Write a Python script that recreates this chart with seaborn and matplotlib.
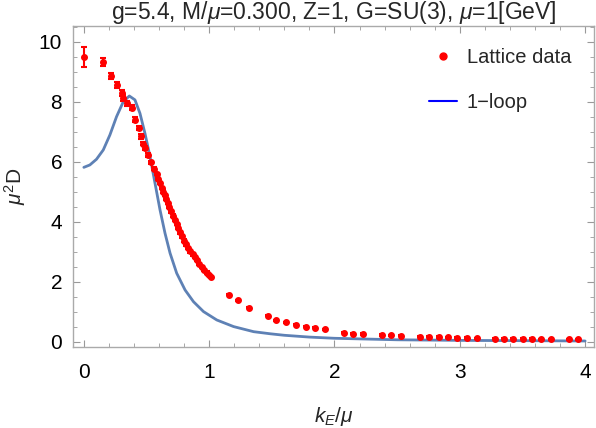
import numpy as np
import pandas as pd
import seaborn as sns
import matplotlib.pyplot as plt
from matplotlib.lines import Line2D
from matplotlib.ticker import MultipleLocator

# Lattice data (k_E/mu, mu^2 D, error)
k_lat = [0.0, 0.154, 0.216, 0.266, 0.303, 0.314, 0.347, 0.381, 0.410, 0.438,
         0.455, 0.469, 0.485, 0.512, 0.538, 0.560, 0.580, 0.594, 0.607, 0.620,
         0.633, 0.645, 0.655, 0.668, 0.681, 0.695, 0.708, 0.724, 0.740, 0.753,
         0.766, 0.782, 0.798, 0.815, 0.833, 0.850, 0.868, 0.884, 0.900, 0.920,
         0.940, 0.960, 0.980, 1.000, 1.015,
         1.160, 1.232, 1.317, 1.466, 1.537, 1.617, 1.697, 1.772, 1.844, 1.924,
         2.078, 2.149, 2.225, 2.383, 2.454, 2.531,
         2.685, 2.757, 2.835, 2.907, 2.981, 3.058, 3.136,
         3.284, 3.355, 3.428, 3.503, 3.579, 3.651, 3.726, 3.872, 3.947]
d_lat = [9.48, 9.31, 8.87, 8.56, 8.30, 8.12, 7.95, 7.80, 7.40, 7.11,
         6.84, 6.60, 6.45, 6.22, 5.98, 5.76, 5.58, 5.43, 5.28, 5.13,
         5.00, 4.88, 4.76, 4.62, 4.48, 4.34, 4.20, 4.06, 3.92, 3.78,
         3.64, 3.51, 3.37, 3.24, 3.12, 3.01, 2.91, 2.82, 2.72, 2.59,
         2.48, 2.39, 2.30, 2.22, 2.15,
         1.56, 1.37, 1.13, 0.86, 0.71, 0.64, 0.56, 0.50, 0.46, 0.41,
         0.29, 0.26, 0.25, 0.22, 0.21, 0.20,
         0.16, 0.16, 0.15, 0.14, 0.13, 0.12, 0.11,
         0.10, 0.10, 0.09, 0.09, 0.09, 0.08, 0.08, 0.08, 0.07]
e_lat = [0.33, 0.13, 0.10, 0.10, 0.10, 0.10, 0.08, 0.08, 0.08, 0.07,
         0.07, 0.06, 0.06, 0.06, 0.05, 0.05] + [0.04] * 29 + [0.02] * 32

# 1-loop curve
k_loop = [0.0, 0.048, 0.101, 0.155, 0.208, 0.261, 0.315, 0.363, 0.408, 0.448,
          0.488, 0.528, 0.568, 0.608, 0.648, 0.688, 0.741, 0.808, 0.875, 0.955,
          1.061, 1.195, 1.355, 1.488, 1.6, 1.8, 2.0, 2.5, 3.0, 3.5, 4.0]
d_loop = [5.81, 5.89, 6.08, 6.39, 6.89, 7.50, 8.00, 8.19, 8.06, 7.61,
          6.94, 6.17, 5.28, 4.39, 3.61, 2.95, 2.28, 1.72, 1.33, 1.00,
          0.72, 0.50, 0.33, 0.26, 0.21, 0.15, 0.11, 0.06, 0.04, 0.03, 0.02]

sns.set_theme(style="ticks")
plt.rcParams['font.family'] = ['Liberation Sans', 'DejaVu Sans']
plt.rcParams['mathtext.fontset'] = 'custom'
plt.rcParams['mathtext.rm'] = 'Liberation Sans'
plt.rcParams['mathtext.it'] = 'Liberation Sans:italic'

fig = plt.figure(figsize=(5.96, 4.28), dpi=100)
ax = fig.add_axes([0.123, 0.19, 0.873, 0.749])

df_loop = pd.DataFrame({"k": k_loop, "D": d_loop})
sns.lineplot(data=df_loop, x="k", y="D", ax=ax, color="#5E81B5", lw=2,
             sort=False, estimator=None)

ax.errorbar(k_lat, d_lat, yerr=e_lat, fmt='o', color='red', ms=4,
            elinewidth=1.5, capsize=2.5, capthick=1.5, zorder=3)

ax.set_xlim(-0.084, 4.068)
ax.set_ylim(-0.17, 10.52)
ax.xaxis.set_major_locator(MultipleLocator(1))
ax.xaxis.set_minor_locator(MultipleLocator(0.2))
ax.yaxis.set_major_locator(MultipleLocator(2))
ax.yaxis.set_minor_locator(MultipleLocator(0.5))
ax.tick_params(which='both', direction='in', top=True, right=True,
               color='#999999', labelsize=15, labelcolor='black')
ax.tick_params(which='major', length=5, width=0.8)
ax.tick_params(axis='x', which='major', pad=12)
ax.tick_params(axis='y', which='major', pad=8)
ax.tick_params(which='minor', length=3, width=0.6)
for sp in ax.spines.values():
    sp.set_color('#aaaaaa')
    sp.set_linewidth(1)

ax.set_xlabel(r"$k_E/\mu$", fontsize=15, labelpad=16)
ax.set_ylabel(r"$\mu^2\mathrm{D}$", fontsize=15, labelpad=8)
ax.set_title(r"g=5.4, M/$\mu$=0.300, Z=1, G=SU(3), $\mu$=1[GeV]",
             fontsize=16.5, pad=3)

handles = [Line2D([], [], marker='o', color='red', ls='none', ms=5),
           Line2D([], [], color='blue', lw=1.5)]
ax.legend(handles, ["Lattice data", "1\u2212loop"], loc='upper right',
          frameon=False, fontsize=14.5, handlelength=1.4, labelspacing=1.3,
          handletextpad=0.5, borderaxespad=0.7)

fig.savefig("out.png", dpi=100)
